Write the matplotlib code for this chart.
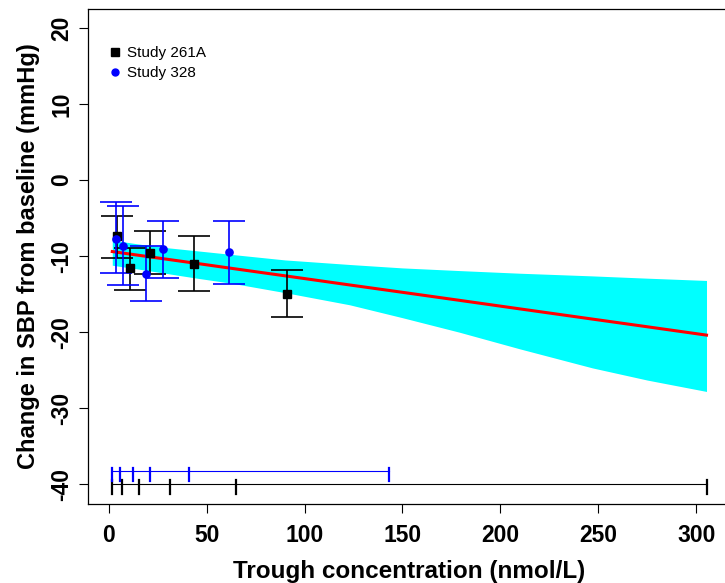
import numpy as np
import matplotlib
matplotlib.use("Agg")
import matplotlib.pyplot as plt
from matplotlib.lines import Line2D

plt.rcParams["font.family"] = ["Liberation Sans", "DejaVu Sans"]
plt.rcParams["axes.unicode_minus"] = False

# Binned observations, Study 261A (black squares)
conc_261a = [4.4, 10.8, 21.0, 43.5, 90.8]
mean_261a = [-7.4, -11.6, -9.6, -11.0, -15.0]
low_261a = [-10.2, -14.5, -12.4, -14.6, -18.0]
high_261a = [-4.7, -8.9, -6.7, -7.4, -11.8]

# Binned observations, Study 328 (blue circles)
conc_328 = [3.7, 7.4, 19.0, 27.5, 61.2]
mean_328 = [-7.7, -8.7, -12.3, -9.1, -9.5]
low_328 = [-12.2, -13.8, -15.9, -12.9, -13.7]
high_328 = [-2.9, -3.4, -8.7, -5.4, -5.4]

# Concentration bin edges (rug lines at the bottom)
edges_261a = [1.8, 6.7, 15.3, 31.1, 64.8, 305.3]
edges_328 = [1.8, 5.6, 12.2, 21.0, 41.0, 143.3]

# Model prediction with confidence band
pred_conc = [1.8, 15, 30, 45, 63.6, 90, 123, 150, 179, 210, 247, 275, 305.3]
pred_mean = [-9.4, -9.88, -10.42, -10.96, -11.64, -12.59, -13.79, -14.76,
             -15.81, -16.94, -18.28, -19.29, -20.39]
pred_low = [-11.2, -11.7, -12.3, -12.9, -13.6, -14.8, -16.4, -18.1,
            -20.0, -22.2, -24.7, -26.3, -27.8]
pred_high = [-7.9, -8.4, -8.9, -9.3, -9.8, -10.5, -11.1, -11.55,
             -11.9, -12.25, -12.6, -12.9, -13.2]

fig = plt.figure(figsize=(7.25, 5.83), dpi=100)
ax = fig.add_axes([88 / 725, 79 / 583, 642 / 725, 495 / 583])

ax.fill_between(pred_conc, pred_low, pred_high, color="cyan", linewidth=0)
ax.plot(pred_conc, pred_mean, color="red", linewidth=2.2)


def draw_study(conc, mean, low, high, color, marker, size):
    mean = np.asarray(mean)
    yerr = [mean - np.asarray(low), np.asarray(high) - mean]
    ax.errorbar(conc, mean, yerr=yerr, fmt=marker, color=color, ecolor=color,
                markersize=size, elinewidth=1.2, capsize=11.2, capthick=1.2)


draw_study(conc_261a, mean_261a, low_261a, high_261a, "black", "s", 5.2)
draw_study(conc_328, mean_328, low_328, high_328, "blue", "o", 5.2)


def draw_rug(edges, y, color):
    ax.plot([edges[0], edges[-1]], [y, y], color=color, linewidth=0.8)
    for e in edges:
        ax.plot([e, e], [y + 0.5, y - 1.3], color=color, linewidth=1.6)


draw_rug(edges_261a, -40.0, "black")
draw_rug(edges_328, -38.3, "blue")

ax.set_xlim(-10.6, 317.3)
ax.set_ylim(-42.6, 22.5)
ax.set_xticks(np.arange(0, 301, 50))
ax.set_yticks(np.arange(-40, 21, 10))
ax.tick_params(axis="both", direction="out", length=6.5, width=0.8,
               labelsize=16.5)
ax.tick_params(axis="x", pad=8)
ax.tick_params(axis="y", pad=4)
for lab in ax.get_xticklabels():
    lab.set_fontweight("bold")
for lab in ax.get_yticklabels():
    lab.set_fontweight("bold")
    lab.set_rotation(90)
    lab.set_va("center")

for sp in ax.spines.values():
    sp.set_linewidth(0.9)

ax.set_xlabel("Trough concentration (nmol/L)", fontsize=17.5, fontweight="bold")
ax.set_ylabel("Change in SBP from baseline (mmHg)", fontsize=17, fontweight="bold")
ax.xaxis.set_label_coords(0.5, -0.113)
ax.yaxis.set_label_coords(-0.075, 0.5)

handles = [
    Line2D([], [], linestyle="none", marker="s", color="black", markersize=5.5),
    Line2D([], [], linestyle="none", marker="o", color="blue", markersize=5),
]
ax.legend(handles, ["Study 261A", "Study 328"], loc="upper left",
          bbox_to_anchor=(0.025, 0.937), frameon=False, fontsize=11,
          handlelength=0.6, handletextpad=0.5, labelspacing=0.4,
          borderaxespad=0)

fig.savefig("out.png", dpi=100)
